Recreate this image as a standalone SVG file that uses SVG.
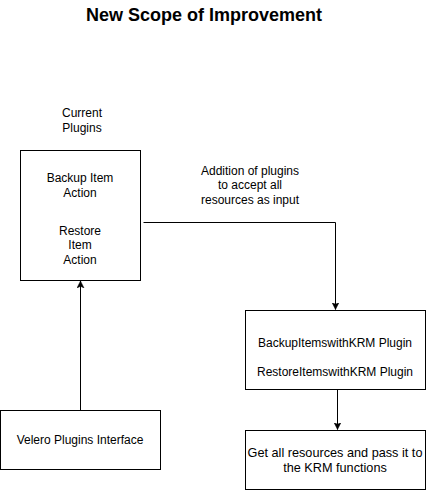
<svg xmlns="http://www.w3.org/2000/svg" width="426" height="491" viewBox="0 0 426 491">
<defs>
<marker id="arr" markerWidth="8" markerHeight="8" refX="7" refY="4" orient="auto" markerUnits="userSpaceOnUse">
<path d="M0,0.5 L7,4 L0,7.5 L1.8,4 Z" fill="#000" stroke="#000" stroke-width="0.5"/>
</marker>
<style>
.box{fill:#fff;stroke:#000;stroke-width:1}
.t{font-family:"Liberation Sans",Arial,sans-serif;font-size:12px;fill:#000;text-anchor:middle}
.t2{font-family:"Liberation Sans",Arial,sans-serif;font-size:12.7px;fill:#000;text-anchor:middle}
.title{font-family:"Liberation Sans",Arial,sans-serif;font-size:18px;font-weight:bold;fill:#000;text-anchor:middle}
.edge{fill:none;stroke:#000;stroke-width:1}
</style>
</defs>
<rect width="426" height="491" fill="#fff"/>
<g id="title"><text class="title" x="204" y="21">New Scope of Improvement</text></g>
<g id="current-plugins-label">
<text class="t" x="82" y="117">Current</text>
<text class="t" x="82" y="132">Plugins</text>
</g>
<g id="current-plugins">
<rect class="box" x="20.5" y="150.5" width="120" height="130"/>
<text class="t" x="80" y="182">Backup Item</text>
<text class="t" x="80" y="197">Action</text>
<text class="t" x="80" y="235">Restore</text>
<text class="t" x="80" y="249">Item</text>
<text class="t" x="80" y="264">Action</text>
</g>
<g id="addition-label">
<text class="t" x="250" y="175">Addition of plugins</text>
<text class="t" x="250" y="189">to accept all</text>
<text class="t" x="250" y="204">resources as input</text>
</g>
<g id="krm-plugins">
<rect class="box" x="245.5" y="310.5" width="180" height="79"/>
<text class="t" x="335" y="347">BackupItemswithKRM Plugin</text>
<text class="t" x="335" y="376">RestoreItemswithKRM Plugin</text>
</g>
<g id="get-resources">
<rect class="box" x="245.5" y="430.5" width="180" height="59"/>
<text class="t2" x="335" y="457">Get all resources and pass it to</text>
<text class="t2" x="335" y="472">the KRM functions</text>
</g>
<g id="velero-interface">
<rect class="box" x="0.5" y="410.5" width="160" height="59"/>
<text class="t" x="80" y="444">Velero Plugins Interface</text>
</g>
<g id="connectors">
<path class="edge" d="M143.5,222.5 H335.5 V309.5" marker-end="url(#arr)"/>
<path class="edge" d="M337.5,390 V429.5" marker-end="url(#arr)"/>
<path class="edge" d="M80.5,410 V281" marker-end="url(#arr)"/>
</g>
</svg>
